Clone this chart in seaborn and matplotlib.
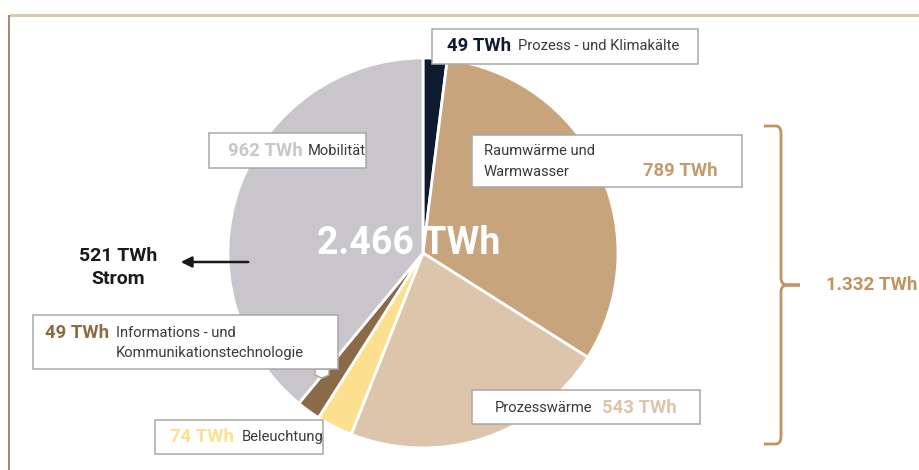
import matplotlib
matplotlib.use("Agg")

import matplotlib.pyplot as plt
import seaborn as sns
from matplotlib.patches import Rectangle, Polygon, FancyArrowPatch, PathPatch
from matplotlib.path import Path

sns.set_theme(style="white")
plt.rcParams["font.family"] = ["Roboto", "DejaVu Sans"]

# ── Data ───────────────────────────────────────────────────────────────
categories = [
    "Prozess- und Klimakälte",
    "Raumwärme und Warmwasser",
    "Prozesswärme",
    "Beleuchtung",
    "Informations- und Kommunikationstechnologie",
    "Mobilität",
]
values_twh = [49, 789, 543, 74, 49, 962]
slice_colors = ["#0e1a2e", "#c8a47c", "#ddc5ab", "#fde08f", "#8b6b47", "#c8c6cb"]
value_colors = ["#0e1a2e", "#c49a6c", "#ddc5ab", "#fde08f", "#8b6b47", "#c8c6cb"]
total_label = "2.466 TWh"
strom_label = ["521 TWh", "Strom"]
heat_total_label = "1.332 TWh"

W, H = 920, 470
TXT = "#3a3a3a"
TAN = "#c0935f"


def py(y):
    """pixel row (from top) -> data y"""
    return H - y


fig = plt.figure(figsize=(W / 100, H / 100), dpi=100)
ax = fig.add_axes([0, 0, 1, 1])
ax.set_xlim(0, W)
ax.set_ylim(0, H)
ax.set_aspect("equal")
ax.axis("off")

# frame lines
ax.plot([9, W], [py(15), py(15)], color="#dcc8b0", lw=2.2, solid_capstyle="butt")
ax.plot([9, 9], [py(15), 0], color="#a08b6a", lw=1.4, solid_capstyle="butt")

# ── Pie ────────────────────────────────────────────────────────────────
ax.pie(
    values_twh, colors=slice_colors, startangle=90, counterclock=False,
    center=(423, py(253)), radius=195, frame=True,
    wedgeprops=dict(edgecolor="white", linewidth=2),
)
ax.set_xlim(0, W)
ax.set_ylim(0, H)
ax.axis("off")

ax.text(409, py(244), total_label, color="white", fontsize=27, fontweight="bold",
        ha="center", va="center", zorder=5)


def box(x0, y0, x1, y1):
    ax.add_patch(Rectangle((x0, py(y1)), x1 - x0, y1 - y0, facecolor="white",
                           edgecolor="#a8a8a8", lw=1.1, zorder=6))


def bold(x, y, s, c):
    ax.text(x, py(y), s, color=c, fontsize=13.3, fontweight="bold",
            ha="left", va="center", zorder=7)


def norm(x, y, s):
    ax.text(x, py(y), s, color=TXT, fontsize=10.6, ha="left", va="center", zorder=7)


# Prozess- und Klimakälte
box(432, 29, 698, 64)
bold(447, 46, f"{values_twh[0]} TWh", value_colors[0])
norm(518, 46, "Prozess - und Klimakälte")

# Raumwärme und Warmwasser
box(472, 135, 742, 187)
norm(484, 151, "Raumwärme und")
norm(484, 172, "Warmwasser")
bold(643, 171, f"{values_twh[1]} TWh", value_colors[1])

# Prozesswärme
box(472, 390, 700, 424)
norm(495, 408, "Prozesswärme")
bold(602, 408, f"{values_twh[2]} TWh", value_colors[2])

# Beleuchtung
box(155, 420, 323, 454)
bold(170, 437, f"{values_twh[3]} TWh", value_colors[3])
norm(242, 437, "Beleuchtung")

# IKT
box(33, 315, 338, 369)
ax.add_patch(Polygon([(315, py(369)), (315, py(375)), (322, py(378)), (329, py(375)), (329, py(369))],
                     closed=True, facecolor="white", edgecolor="#a8a8a8", lw=1.0, zorder=5))
bold(45, 333, f"{values_twh[4]} TWh", value_colors[4])
norm(116, 333, "Informations - und")
norm(116, 353, "Kommunikationstechnologie")

# Mobilität
box(209, 133, 366, 168)
bold(228, 151, f"{values_twh[5]} TWh", value_colors[5])
norm(308, 151, "Mobilität")

# Strom arrow
ax.add_patch(FancyArrowPatch((251, py(262)), (178, py(262)), arrowstyle="-|>",
                             mutation_scale=16, color="#1a1a1a", lw=1.8, zorder=6))
ax.text(118, py(256), strom_label[0], color="#1a1a1a", fontsize=14, fontweight="bold",
        ha="center", va="center")
ax.text(118, py(279), strom_label[1], color="#1a1a1a", fontsize=14, fontweight="bold",
        ha="center", va="center")

# curly bracket
verts = [
    (764, py(126)), (776, py(126)), (781, py(126)), (781, py(134)),
    (781, py(278)),
    (781, py(284)), (786, py(285)), (800, py(285)),
    (786, py(285)), (781, py(286)), (781, py(292)),
    (781, py(436)),
    (781, py(444)), (776, py(444)), (764, py(444)),
]
codes = [Path.MOVETO, Path.LINETO, Path.CURVE3, Path.CURVE3, Path.LINETO,
         Path.CURVE3, Path.CURVE3, Path.LINETO, Path.LINETO, Path.CURVE3, Path.CURVE3,
         Path.LINETO, Path.CURVE3, Path.CURVE3, Path.LINETO]
ax.add_patch(PathPatch(Path(verts, codes), facecolor="none", edgecolor=TAN, lw=2))
ax.text(826, py(285), heat_total_label, color=TAN, fontsize=13.5, fontweight="bold",
        ha="left", va="center")

fig.savefig("out.png", dpi=100)
